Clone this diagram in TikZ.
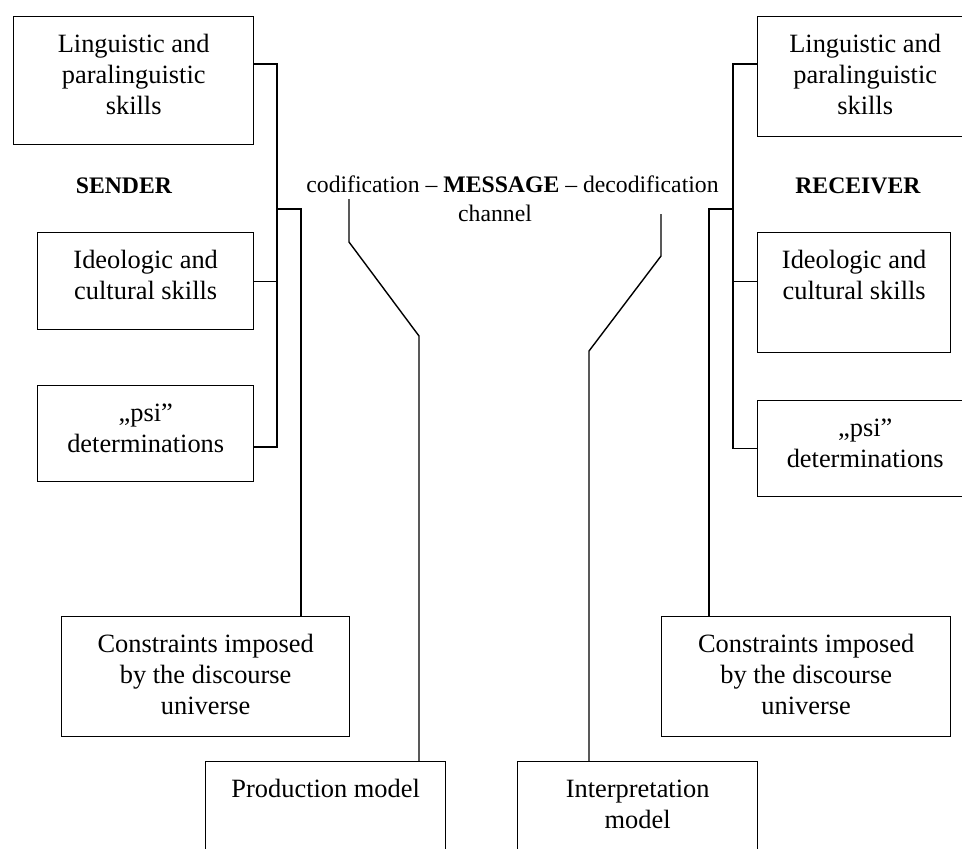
\documentclass[tikz,border=0pt]{standalone}
\usepackage{fontspec}
\setmainfont{Liberation Serif}
\newcommand{\skilltext}[3]{\parbox[t][#2][t]{#1}{\centering\rule{0pt}{36pt}#3}}

\begin{document}
\begin{tikzpicture}[x=1pt,y=-1pt,line width=1.4pt,
  skill/.style={draw,anchor=north west,inner sep=0pt,font=\fontsize{26.4}{31}\selectfont},
  tag/.style={anchor=base,inner sep=0pt,font=\fontsize{23.7}{28}\selectfont}]
\useasboundingbox (0,0) rectangle (962,849);
\clip (0,0) rectangle (962,849);

% sender side
\node[skill] (sl) at (13,16) {\skilltext{240pt}{128pt}{Linguistic and\\paralinguistic\\skills}};
\node[skill] (si) at (37,232) {\skilltext{216pt}{97pt}{Ideologic and\\cultural skills}};
\node[skill] (sp) at (37,385) {\skilltext{216pt}{96pt}{„psi”\\determinations}};
\node[skill] (sc) at (61,616) {\skilltext{288pt}{120pt}{Constraints imposed\\by the discourse\\universe}};
\node[skill] (pm) at (205,761) {\skilltext{240pt}{110pt}{Production model}};
\node[tag] (sender) at (124,193) {\textbf{SENDER}};

% receiver side
\node[skill] (rl) at (757,16) {\skilltext{215pt}{120pt}{Linguistic and\\paralinguistic\\skills}};
\node[skill] (ri) at (757,232) {\skilltext{193pt}{120pt}{Ideologic and\\cultural skills}};
\node[skill] (rp) at (757,400) {\skilltext{215pt}{96pt}{„psi”\\determinations}};
\node[skill] (rc) at (661,616) {\skilltext{289pt}{120pt}{Constraints imposed\\by the discourse\\universe}};
\node[skill] (im) at (517,761) {\skilltext{240pt}{110pt}{Interpretation\\model}};
\node[tag] (receiver) at (858,193) {\textbf{RECEIVER}};

% message
\node[tag] (msg) at (512.5,192) {codification -- \textbf{MESSAGE} -- decodification};
\node[tag] (chan) at (495,221.5) {channel};

% sender links
\coordinate (sbus) at (277,209);
\coordinate (sspur) at (301,209);
\draw ([yshift=-48pt]sl.north east) -| (sbus) |- ([yshift=-62pt]sp.north east);
\draw (si.east) -- (si.east -| sbus);
\draw (sbus) -- (sspur) -- (sspur |- sc.north);

% receiver links
\coordinate (rbus) at (733,209);
\coordinate (rspur) at (709,209);
\draw ([yshift=-48pt]rl.north west) -| (rbus) |- (rp.west);
\draw (ri.west |- si.east) -- (rbus |- si.east);
\draw (rbus) -- (rspur) -- (rspur |- rc.north);

% channel lines
\coordinate (cod) at (349,199);
\coordinate (codbend) at (419,336);
\draw (cod) -- (349,242) -- (codbend) -- (codbend |- pm.north);
\coordinate (dec) at (661,214);
\coordinate (decbend) at (589,351);
\draw (dec) -- (661,256) -- (decbend) -- (decbend |- im.north);
\end{tikzpicture}
\end{document}
